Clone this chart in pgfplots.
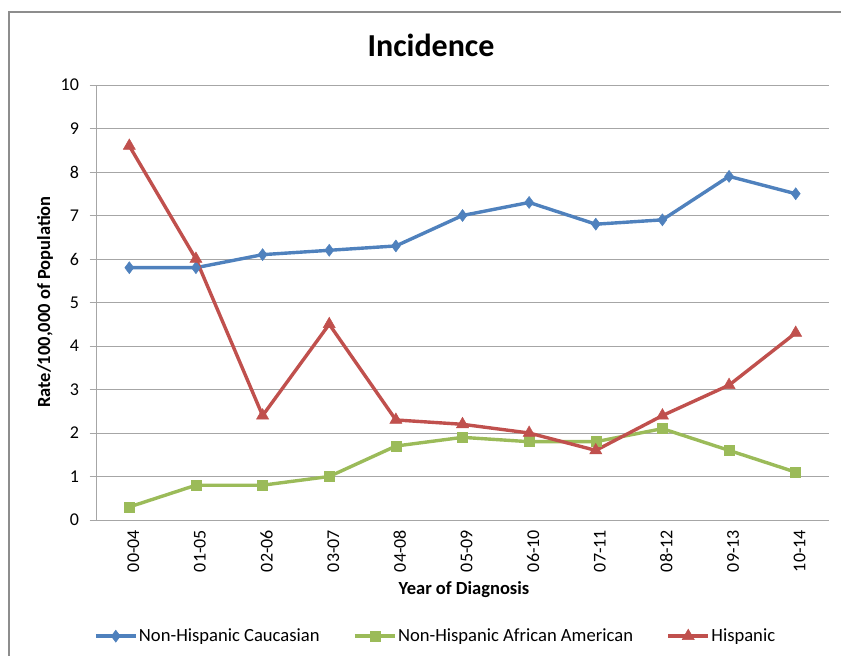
\documentclass[border=0pt]{standalone}
\usepackage{pgfplots}
\pgfplotsset{compat=1.18}
\usepackage{fontspec}
\setmainfont{Carlito}

\definecolor{cauc}{HTML}{4F81BD}
\definecolor{afam}{HTML}{9BBB59}
\definecolor{hisp}{HTML}{C0504D}
\definecolor{gridc}{HTML}{A6A6A6}

\begin{document}
\begin{tikzpicture}
\useasboundingbox (0pt,0pt) rectangle (841pt,656pt);
\draw[gridc!85!black, line width=1.5pt] (9pt,-20pt) -- (9pt,644pt) -- (860pt,644pt);
\node[font=\bfseries\fontsize{32}{36}\selectfont] at (431pt,611pt) {Incidence};
\begin{axis}[
	at={(96pt,136pt)}, anchor=south west,
	scale only axis,
	width=733pt, height=435pt,
	xmin=-0.5, xmax=10.5,
	ymin=0, ymax=10,
	xtick=data,
	xticklabels={00-04,01-05,02-06,03-07,04-08,05-09,06-10,07-11,08-12,09-13,10-14},
	x tick label style={rotate=90, anchor=east, yshift=-4pt},
	y tick label style={xshift=-7pt},
	ytick={0,...,10},
	ymajorgrids,
	grid style={gridc, line width=0.9pt},
	axis x line*=bottom,
	axis y line*=left,
	axis line style={gridc, line width=0.9pt, -},
	major tick length=6.5pt,
	tick align=outside,
	xtick style={draw=none},
	ytick style={gridc, line width=0.9pt},
	tick label style={font=\fontsize{18}{21}\selectfont},
	/pgf/number format/assume math mode=true,
	xlabel={\bfseries Year of Diagnosis},
	ylabel={\bfseries Rate/100,000 of Population},
	label style={font=\fontsize{18.5}{22}\selectfont},
	xlabel style={at={(rel axis cs:0.502,-0.159)}, anchor=center},
	ylabel style={at={(rel axis cs:-0.0696,0.501)}, anchor=center, rotate=0},
	legend columns=3,
	legend style={at={(rel axis cs:0.463,-0.267)}, anchor=center, draw=none,
		font=\fontsize{18.6}{22}\selectfont,
		nodes={inner sep=1.5pt},
		/tikz/every even column/.append style={column sep=32pt}},
	legend image code/.code={%
		\draw[mark repeat=2,mark phase=2] plot coordinates {(0pt,0pt) (20pt,0pt) (40pt,0pt)};},
	every axis plot/.append style={line width=3.4pt},
]
\addplot[cauc, mark=diamond*, mark size=6pt, mark options={line width=0.5pt}] coordinates {
(0,5.8) (1,5.8) (2,6.1) (3,6.2) (4,6.3) (5,7.0) (6,7.3) (7,6.8) (8,6.9) (9,7.9) (10,7.5)};
\addlegendentry{Non-Hispanic Caucasian}
\addplot[afam, mark=square*, mark size=5pt, mark options={line width=0.5pt}] coordinates {
(0,0.3) (1,0.8) (2,0.8) (3,1.0) (4,1.7) (5,1.9) (6,1.8) (7,1.8) (8,2.1) (9,1.6) (10,1.1)};
\addlegendentry{Non-Hispanic African American}
\addplot[hisp, mark=triangle*, mark size=7pt, mark options={line width=0.5pt}] coordinates {
(0,8.6) (1,6.0) (2,2.4) (3,4.5) (4,2.3) (5,2.2) (6,2.0) (7,1.6) (8,2.4) (9,3.1) (10,4.3)};
\addlegendentry{Hispanic}
\end{axis}
\end{tikzpicture}
\end{document}
